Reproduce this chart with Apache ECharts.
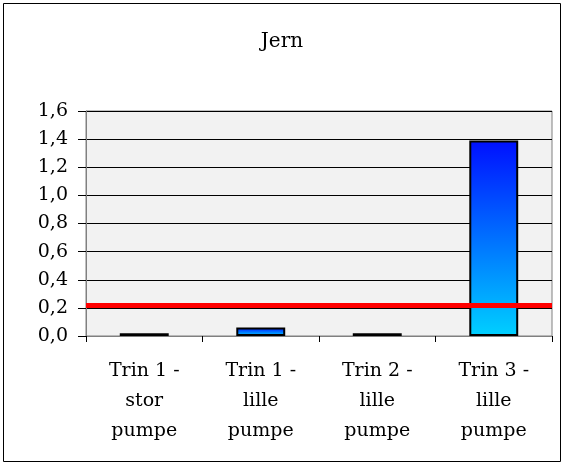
<!DOCTYPE html>
<html><head><meta charset="utf-8">
<script src="https://cdn.jsdelivr.net/npm/echarts@6/dist/echarts.min.js"></script>
<style>html,body{margin:0;padding:0;background:#fff}#main{width:564px;height:465px}</style>
</head><body><div id="main"></div>
<script>
var title = 'Jern';
var categories = ['Trin 1 -\nstor\npumpe', 'Trin 1 -\nlille\npumpe', 'Trin 2 -\nlille\npumpe', 'Trin 3 -\nlille\npumpe'];
var values = [0.02, 0.06, 0.02, 1.39];
var limitValue = 0.22;
var yMin = 0, yMax = 1.6, yStep = 0.2;

var chart = echarts.init(document.getElementById('main'), null, {renderer: 'canvas'});
var font = '"DejaVu Serif", "Liberation Serif", serif';
chart.setOption({
  animation: false,
  backgroundColor: '#fff',
  graphic: [{type: 'rect', shape: {x: 3.5, y: 3.5, width: 557, height: 458}, style: {fill: 'none', stroke: '#000', lineWidth: 1}, silent: true, z: -1}],
  title: {text: title, left: 'center', top: 27, textStyle: {fontFamily: font, fontSize: 20, fontWeight: 'normal', color: '#000'}},
  grid: {left: 86, right: 12, top: 111, bottom: 129, show: true, backgroundColor: '#f2f2f2', borderColor: '#808080', borderWidth: 1},
  xAxis: {
    type: 'category', data: categories,
    axisLine: {lineStyle: {color: '#808080', width: 1}},
    axisTick: {show: true, length: 6, lineStyle: {color: '#000'}},
    axisLabel: {fontFamily: font, fontSize: 19, color: '#000', lineHeight: 30, margin: 20, interval: 0}
  },
  yAxis: {
    type: 'value', min: yMin, max: yMax, interval: yStep,
    axisLine: {show: true, lineStyle: {color: '#808080', width: 1}},
    axisTick: {show: true, length: 8, lineStyle: {color: '#000'}},
    splitLine: {lineStyle: {color: '#000', width: 1}},
    axisLabel: {fontFamily: font, fontSize: 19, color: '#000', margin: 18,
      formatter: function (v) { return v.toFixed(1).replace('.', ','); }}
  },
  series: [{
    type: 'bar', data: values, barWidth: '42%',
    itemStyle: {
      borderColor: '#000', borderWidth: 2,
      color: new echarts.graphic.LinearGradient(0, 0, 0, 1, [{offset: 0, color: '#0010ff'}, {offset: 1, color: '#00d0ff'}])
    },
    markLine: {
      silent: true, symbol: ['none', 'none'], label: {show: false},
      lineStyle: {color: '#ff0000', width: 5, type: 'solid'},
      data: [{yAxis: limitValue}]
    }
  }]
});
</script></body></html>
